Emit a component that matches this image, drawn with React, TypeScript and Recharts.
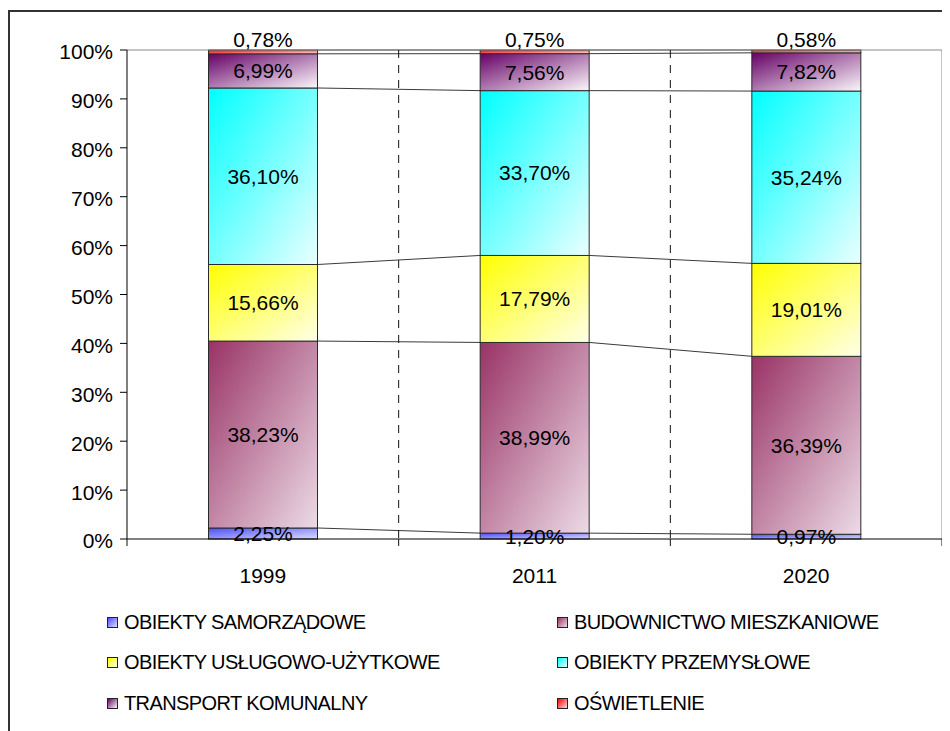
import React from 'react';
import { BarChart, Bar, XAxis, YAxis, LabelList, ReferenceLine } from 'recharts';

// Categories (years) and shares of each consumer group, in percent
const categories = ['1999', '2011', '2020'];
const samorzadowe = [2.25, 1.2, 0.97];
const budownictwo = [38.23, 38.99, 36.39];
const uslugowe = [15.66, 17.79, 19.01];
const przemyslowe = [36.1, 33.7, 35.24];
const transport = [6.99, 7.56, 7.82];
const oswietlenie = [0.78, 0.75, 0.58];

const seriesNames = [
  'OBIEKTY SAMORZĄDOWE',
  'BUDOWNICTWO MIESZKANIOWE',
  'OBIEKTY USŁUGOWO-UŻYTKOWE',
  'OBIEKTY PRZEMYSŁOWE',
  'TRANSPORT KOMUNALNY',
  'OŚWIETLENIE',
];

const yTicks = [0, 0.1, 0.2, 0.3, 0.4, 0.5, 0.6, 0.7, 0.8, 0.9, 1];

const FONT = "'Liberation Sans', Arial, sans-serif";

type SeriesDef = { key: string; name: string; values: number[]; from: string; to: string };

const series: SeriesDef[] = [
  { key: 's0', name: seriesNames[0], values: samorzadowe, from: '#4d4dff', to: '#dcdcff' },
  { key: 's1', name: seriesNames[1], values: budownictwo, from: '#993366', to: '#ecdbe6' },
  { key: 's2', name: seriesNames[2], values: uslugowe, from: '#ffff00', to: '#ffffe8' },
  { key: 's3', name: seriesNames[3], values: przemyslowe, from: '#00ffff', to: '#eaffff' },
  { key: 's4', name: seriesNames[4], values: transport, from: '#660066', to: '#fbf7fb' },
  { key: 's5', name: seriesNames[5], values: oswietlenie, from: '#ff0000', to: '#ffd6d6' },
];

const data = categories.map((year, i) => {
  const row: Record<string, number | string> = { year, pos: i + 0.5 };
  series.forEach((s) => {
    row[s.key] = s.values[i];
  });
  return row;
});

const boundaries = categories.map((_, i) => i).concat([categories.length]);

const fmt = (v: any) => `${Number(v).toFixed(2).replace('.', ',')}%`;

type Box = { x: number; y: number; width: number; height: number };

// Segment rectangle with a diagonal gradient; also draws the series line
// joining the top of this segment to the top of the same segment in the previous bar.
const makeShape = (key: string, store: Record<string, Box[]>) => (props: any) => {
  const { x, y, width, height, index } = props;
  if (!store[key]) store[key] = [];
  store[key][index] = { x, y, width, height };
  const prev = index > 0 ? store[key][index - 1] : undefined;
  return (
    <g>
      <rect
        x={x}
        y={y}
        width={width}
        height={height}
        fill={`url(#grad-${key})`}
        stroke="#2a2a2a"
        strokeWidth={1}
      />
      {prev && (
        <line
          x1={prev.x + prev.width}
          y1={prev.y}
          x2={x}
          y2={y}
          stroke="#3a3a3a"
          strokeWidth={1}
        />
      )}
    </g>
  );
};

// Category boundary: dashed separator inside the plot and a tick below the axis
const makeBoundary = (kind: 'edge' | 'inner' | 'end') => (props: any) => {
  const x = props.x1;
  const top = Math.min(props.y1, props.y2);
  const bottom = Math.max(props.y1, props.y2);
  return (
    <g>
      {kind === 'inner' && (
        <line x1={x} y1={top} x2={x} y2={bottom} stroke="#111" strokeWidth={1} strokeDasharray="8 7" />
      )}
      {kind === 'end' && <line x1={x} y1={top} x2={x} y2={bottom} stroke="#8a8a8a" strokeWidth={1} />}
      <line x1={x} y1={bottom} x2={x} y2={bottom + 7} stroke="#111" strokeWidth={1} />
    </g>
  );
};

const legendRows = [
  [0, 1],
  [2, 3],
  [4, 5],
];

export default function App() {
  const store: Record<string, Box[]> = {};
  const tickStyle = { fontSize: 21, fill: '#000', fontFamily: FONT };

  return (
    <div style={{ position: 'relative', width: 942, height: 723, fontFamily: FONT }}>
      <div
        style={{
          position: 'absolute',
          left: 0,
          top: 2,
          right: 0,
          bottom: 0,
          borderTop: '2px solid #333',
          borderLeft: '2px solid #333',
          pointerEvents: 'none',
        }}
      />
      <BarChart
        width={942}
        height={723}
        data={data}
        stackOffset="expand"
        barCategoryGap="30%"
        margin={{ top: 42, right: 8, bottom: 152, left: 0 }}
        style={{ position: 'absolute', left: 0, top: 0 }}
      >
        <defs>
          {series.map((s) => (
            <linearGradient key={s.key} id={`grad-${s.key}`} x1="0" y1="0" x2="1" y2="1">
              <stop offset="0%" stopColor={s.from} />
              <stop offset="100%" stopColor={s.to} />
            </linearGradient>
          ))}
        </defs>
        <XAxis
          xAxisId="cat"
          dataKey="year"
          tickLine={false}
          tickSize={0}
          tickMargin={29}
          height={40}
          interval={0}
          axisLine={{ stroke: '#000', strokeWidth: 1 }}
          tick={tickStyle}
        />
        <XAxis xAxisId="grid" type="number" dataKey="pos" domain={[0, categories.length]} hide allowDataOverflow />
        <YAxis
          type="number"
          domain={[0, 1]}
          ticks={yTicks}
          interval={0}
          width={119}
          tickSize={7}
          tickMargin={7}
          tickFormatter={(v: number) => `${Math.round(v * 100)}%`}
          axisLine={{ stroke: '#000', strokeWidth: 1 }}
          tickLine={{ stroke: '#000', strokeWidth: 1 }}
          tick={{ ...tickStyle, dy: 2 }}
        />
        <ReferenceLine xAxisId="cat" y={1} stroke="#8a8a8a" strokeWidth={1} />
        {boundaries.map((b) => (
          <ReferenceLine
            key={`b-${b}`}
            xAxisId="grid"
            x={b}
            shape={makeBoundary(b === 0 ? 'edge' : b === categories.length ? 'end' : 'inner')}
          />
        ))}
        {series.map((s, si) => (
          <Bar
            key={s.key}
            xAxisId="cat"
            dataKey={s.key}
            name={s.name}
            stackId="total"
            isAnimationActive={false}
            shape={makeShape(s.key, store)}
          >
            <LabelList
              dataKey={s.key}
              position={si === series.length - 1 ? 'top' : 'center'}
              offset={3}
              formatter={fmt}
              style={{ fontSize: 21, fill: '#000', fontFamily: FONT }}
            />
          </Bar>
        ))}
      </BarChart>
      {legendRows.map((row, ri) =>
        row.map((si, ci) => {
          const s = series[si];
          return (
            <div
              key={s.key}
              style={{
                position: 'absolute',
                left: ci === 0 ? 99 : 549,
                top: 614 + ri * 40.5 - 12,
                height: 24,
                display: 'flex',
                alignItems: 'center',
                whiteSpace: 'nowrap',
              }}
            >
              <span
                style={{
                  display: 'inline-block',
                  width: 9,
                  height: 9,
                  border: '1px solid #222',
                  background: `linear-gradient(135deg, ${s.from}, ${s.to})`,
                  marginRight: 6,
                }}
              />
              <span style={{ fontSize: 20, letterSpacing: -0.6, color: '#000' }}>{s.name}</span>
            </div>
          );
        })
      )}
    </div>
  );
}
